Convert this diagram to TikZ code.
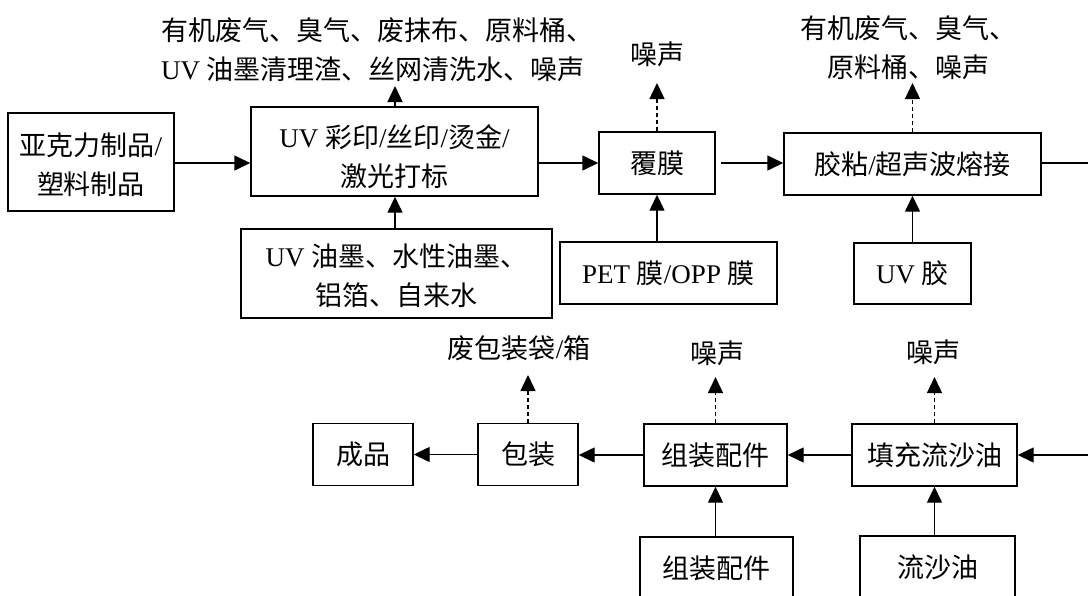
\documentclass[tikz,border=0pt]{standalone}
\usepackage{fontspec}
\setmainfont{Liberation Serif}
\newfontfamily\cjk{Noto Sans CJK SC}
\usetikzlibrary{arrows.meta}
\newcommand\zh[1]{{\cjk #1}}
\begin{document}
\begin{tikzpicture}[x=1pt,y=-1pt,
  txt/.style={inner sep=0pt,align=center,font=\fontsize{27pt}{39pt}\selectfont},
  box/.style={txt,draw,line width=1.4pt},
  arr/.style={line width=1.4pt,-{Triangle[length=16pt,width=15pt]}},
  darr/.style={arr,dash pattern=on 4pt off 3pt}]
\useasboundingbox (0,0) rectangle (1088,595);
\clip (0,0) rectangle (1088,595);
% top row
\node[box,minimum width=166pt,minimum height=98pt] (a1) at (91,162) {};
\node[txt] (a1t) at (91,165) {\zh{亚克力制品}/\\\zh{塑料制品}};
\node[box,minimum width=287pt,minimum height=89pt] (a2) at (394.5,151.5) {};
\node[txt] (a2t) at (394.5,157) {UV \zh{彩印}/\zh{丝印}/\zh{烫金}/\\\zh{激光打标}};
\node[box,minimum width=311pt,minimum height=89pt] (a2in) at (396.5,273.5) {};
\node[txt] (a2int) at (396.5,276) {UV \zh{油墨、水性油墨、}\\\zh{铝箔、自来水}};
\node[txt,align=left,anchor=west] (a2out) at (161,50) {\zh{有机废气、臭气、废抹布、原料桶、}\\UV \zh{油墨清理渣、丝网清洗水、噪声}};
\node[box,minimum width=116pt,minimum height=62pt] (fm) at (657,163) {\zh{覆膜}};
\node[txt] (fmout) at (657,54) {\zh{噪声}};
\node[box,minimum width=217pt,minimum height=62pt] (fmin) at (668.5,273) {PET \zh{膜}/OPP \zh{膜}};
\node[box,minimum width=257pt,minimum height=62pt] (jz) at (912.5,164) {\zh{胶粘}/\zh{超声波熔接}};
\node[txt] (jzout) at (908,48) {\zh{有机废气、臭气、}\\\zh{原料桶、噪声}};
\node[box,minimum width=117pt,minimum height=61pt] (jzin) at (912.5,273.5) {UV \zh{胶}};
% bottom row
\node[box,minimum width=100pt,minimum height=62pt] (cp) at (363,454.5) {\zh{成品}};
\node[box,minimum width=100pt,minimum height=62pt] (bz) at (528,454.5) {\zh{包装}};
\node[txt] (bzout) at (519,348) {\zh{废包装袋}/\zh{箱}};
\node[box,minimum width=143pt,minimum height=62pt] (zp) at (715.5,455) {\zh{组装配件}};
\node[txt] (zpout) at (717,353) {\zh{噪声}};
\node[box,minimum width=153pt,minimum height=62pt] (zpin) at (716.5,568) {\zh{组装配件}};
\node[box,minimum width=165pt,minimum height=62pt] (tc) at (934.5,455) {\zh{填充流沙油}};
\node[txt] (tcout) at (933,352) {\zh{噪声}};
\node[box,minimum width=155pt,minimum height=62pt] (tcin) at (937.5,567) {\zh{流沙油}};
% free ends
\coordinate (t1) at (395,86);
\coordinate (t2) at (657,83);
\coordinate (t3) at (912.5,83);
\coordinate (t4) at (528,375);
\coordinate (t5) at (715.5,377);
\coordinate (t6) at (934.5,377);
\coordinate (r1) at (1096,163);
\coordinate (r2) at (1096,455);
% connectors
\draw[arr] (a1.east |- fm.west) -- (a2.west |- fm.west);
\draw[arr] (a2.east |- fm.west) -- (fm.west);
\draw[arr,shorten <=5pt] (fm.east) -- (jz.west |- fm.east);
\draw[arr] (a2in.north -| t1) -- (a2.south -| t1);
\draw[arr] (fmin.north -| fm.south) -- (fm.south);
\draw[arr] (jzin.north) -- (jz.south);
\draw[darr] (a2.north -| t1) -- (t1);
\draw[darr] (fm.north) -- (t2);
\draw[darr] (jz.north) -- (t3);
\draw[arr] (jz.east |- r1) -- (r1) -- (r2) -- (tc.east);
\draw[arr] (tc.west) -- (zp.east);
\draw[arr] (zp.west) -- (bz.east |- zp.west);
\draw[arr] (bz.west) -- (cp.east);
\draw[arr] (zpin.north -| zp.south) -- (zp.south);
\draw[arr] (tcin.north -| tc.south) -- (tc.south);
\draw[darr] (bz.north) -- (t4);
\draw[darr] (zp.north) -- (t5);
\draw[darr] (tc.north) -- (t6);
\end{tikzpicture}
\end{document}
